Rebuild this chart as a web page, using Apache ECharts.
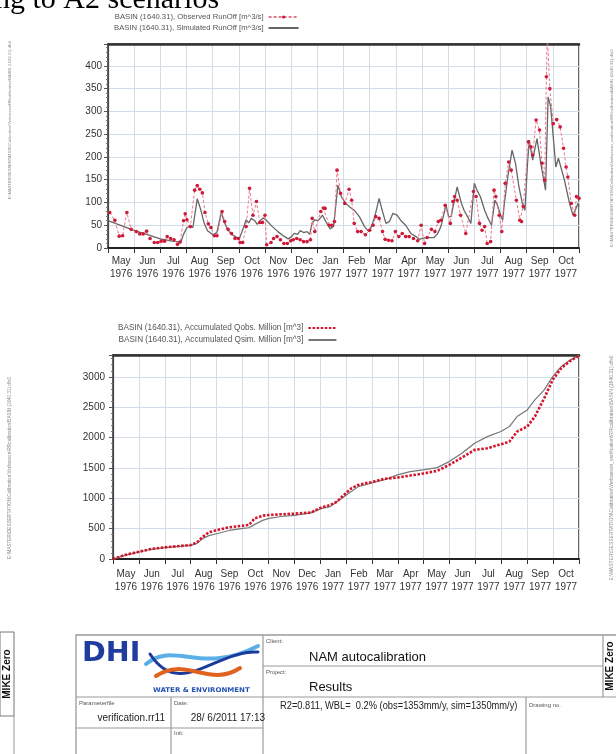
<!DOCTYPE html>
<html><head><meta charset="utf-8">
<script src="https://cdn.jsdelivr.net/npm/echarts@6/dist/echarts.min.js"></script>
<style>html,body{margin:0;padding:0;background:#fff}#c{width:616px;height:754px}</style>
</head><body><div id="c"></div>
<script>
// ---------- DATA ----------
const monthLabels = ['May\n1976','Jun\n1976','Jul\n1976','Aug\n1976','Sep\n1976','Oct\n1976','Nov\n1976','Dec\n1976',
  'Jan\n1977','Feb\n1977','Mar\n1977','Apr\n1977','May\n1977','Jun\n1977','Jul\n1977','Aug\n1977','Sep\n1977','Oct\n1977'];
const startDate = '1976-05-01';
const endDate = '1977-11-01';

const simRunoffDates = ['1976-05-01','1976-05-15','1976-06-01','1976-06-15','1976-07-01','1976-07-15','1976-07-25','1976-07-28',
 '1976-08-01','1976-08-05','1976-08-08','1976-08-13','1976-08-17','1976-08-21','1976-08-25','1976-09-01','1976-09-05','1976-09-10',
 '1976-09-13','1976-09-17','1976-09-22','1976-10-01','1976-10-03','1976-10-06','1976-10-09','1976-10-12','1976-10-15','1976-10-19',
 '1976-10-22','1976-10-25','1976-10-29','1976-11-01','1976-11-08','1976-11-15','1976-11-22','1976-11-27','1976-12-01','1976-12-04',
 '1976-12-08','1976-12-11','1976-12-15','1976-12-19','1976-12-22','1976-12-25','1976-12-28','1977-01-01','1977-01-06','1977-01-10',
 '1977-01-15','1977-01-19','1977-01-24','1977-01-28','1977-02-02','1977-02-06','1977-02-12','1977-02-18','1977-02-24','1977-03-01',
 '1977-03-04','1977-03-08','1977-03-13','1977-03-17','1977-03-21','1977-03-25','1977-03-29','1977-04-03','1977-04-07','1977-04-13',
 '1977-04-19','1977-04-25','1977-04-29','1977-05-02','1977-05-08','1977-05-16','1977-05-20','1977-05-24','1977-05-30','1977-06-02',
 '1977-06-05','1977-06-08','1977-06-12','1977-06-17','1977-06-20','1977-06-24','1977-06-28','1977-07-02','1977-07-05','1977-07-09',
 '1977-07-14','1977-07-18','1977-07-22','1977-07-26','1977-07-29','1977-08-01','1977-08-04','1977-08-06','1977-08-10','1977-08-15',
 '1977-08-19','1977-08-23','1977-08-27','1977-08-30','1977-09-02','1977-09-04','1977-09-08','1977-09-13','1977-09-18','1977-09-23',
 '1977-09-26','1977-09-29','1977-10-05','1977-10-08','1977-10-15','1977-10-21','1977-10-25','1977-10-27','1977-10-31','1977-11-01'];
const simRunoffValues = [60,50,38,30,20,15,13,30,
 45,48,45,108,85,55,38,28,35,78,
 60,42,30,20,16,45,62,55,65,60,
 52,60,66,62,48,36,26,20,25,32,
 30,38,34,36,30,55,62,60,72,58,
 42,48,138,113,98,91,83,69,47,36,
 47,69,109,80,54,58,76,72,61,50,
 32,25,19,21,23,23,31,47,94,69,
 69,98,134,98,83,69,54,142,127,113,
 83,65,50,105,94,76,61,98,156,215,
 186,134,98,83,186,237,193,240,180,127,
 332,310,178,197,149,98,72,69,98,91];

const obsRunoffDates = ['1976-05-03','1976-05-09','1976-05-14','1976-05-18','1976-05-23','1976-05-28','1976-06-03','1976-06-07',
 '1976-06-11','1976-06-15','1976-06-19','1976-06-24','1976-06-28','1976-07-02','1976-07-06','1976-07-09','1976-07-13','1976-07-17',
 '1976-07-21','1976-07-24','1976-07-28','1976-07-30','1976-08-01','1976-08-05','1976-08-10','1976-08-13','1976-08-16','1976-08-19',
 '1976-08-22','1976-08-26','1976-08-29','1976-09-02','1976-09-05','1976-09-11','1976-09-14','1976-09-18','1976-09-22','1976-09-26',
 '1976-09-30','1976-10-02','1976-10-05','1976-10-09','1976-10-13','1976-10-17','1976-10-21','1976-10-25','1976-10-28','1976-10-31',
 '1976-11-02','1976-11-07','1976-11-10','1976-11-14','1976-11-18','1976-11-22','1976-11-26','1976-11-30','1976-12-03','1976-12-07',
 '1976-12-11','1976-12-15','1976-12-19','1976-12-23','1976-12-25','1976-12-28','1977-01-04','1977-01-07','1977-01-09','1977-01-14',
 '1977-01-17','1977-01-20','1977-01-23','1977-01-27','1977-02-01','1977-02-06','1977-02-09','1977-02-12','1977-02-16','1977-02-20',
 '1977-02-25','1977-03-02','1977-03-06','1977-03-09','1977-03-13','1977-03-17','1977-03-20','1977-03-24','1977-03-28','1977-04-01',
 '1977-04-05','1977-04-09','1977-04-13','1977-04-17','1977-04-22','1977-04-27','1977-05-01','1977-05-05','1977-05-08','1977-05-13',
 '1977-05-17','1977-05-21','1977-05-24','1977-05-29','1977-06-04','1977-06-07','1977-06-09','1977-06-12','1977-06-16','1977-06-22',
 '1977-07-01','1977-07-04','1977-07-08','1977-07-11','1977-07-14','1977-07-17','1977-07-21','1977-07-25','1977-07-27','1977-07-31',
 '1977-08-03','1977-08-07','1977-08-11','1977-08-14','1977-08-20','1977-08-24','1977-08-26','1977-08-28','1977-09-03','1977-09-06',
 '1977-09-08','1977-09-12','1977-09-16','1977-09-19','1977-09-22','1977-09-24','1977-09-25','1977-09-28','1977-10-02','1977-10-06',
 '1977-10-10','1977-10-14','1977-10-17','1977-10-19','1977-10-23','1977-10-27','1977-10-29','1977-11-01'];
const obsRunoffValues = [78,61,26,27,78,41,36,31,
 31,37,21,12,12,15,15,25,21,18,
 8,13,60,75,62,47,127,137,129,121,
 78,53,45,27,27,80,58,41,32,21,
 21,12,12,47,131,72,102,56,56,72,
 7,12,21,25,18,10,10,16,18,21,
 18,14,14,18,65,36,80,88,87,50,
 50,58,171,120,98,129,105,54,36,36,
 29,39,50,69,65,36,19,17,16,36,
 25,32,25,25,21,16,50,10,23,41,
 36,58,61,94,54,102,113,105,72,32,
 124,113,54,39,47,10,14,127,113,72,
 36,142,189,171,105,61,58,91,233,222,
 204,281,259,186,149,376,470,350,273,282,
 266,219,178,156,98,72,113,109];

const obsAccDates = ['1976-05-01','1976-05-15','1976-06-01','1976-06-15','1976-07-01','1976-07-15','1976-08-01','1976-08-08',
 '1976-08-15','1976-08-22','1976-09-01','1976-09-15','1976-10-01','1976-10-08','1976-10-15','1976-10-25','1976-11-01','1976-11-15',
 '1976-12-01','1976-12-20','1977-01-01','1977-01-12','1977-01-20','1977-01-28','1977-02-06','1977-02-14','1977-02-22','1977-03-01',
 '1977-03-16','1977-04-01','1977-04-16','1977-05-01','1977-05-18','1977-06-01','1977-06-16','1977-07-01','1977-07-16','1977-08-01',
 '1977-08-11','1977-08-20','1977-09-01','1977-09-10','1977-09-21','1977-10-01','1977-10-11','1977-10-22','1977-11-01'];
const obsAccValues = [0,66,121,165,192,209,231,275,
 368,440,478,522,549,560,670,714,725,736,
 747,764,846,890,945,1055,1165,1220,1247,1264,
 1319,1341,1374,1407,1451,1549,1670,1797,1824,1890,
 1934,2099,2181,2346,2648,2951,3143,3264,3352];

const simAccDates = ['1976-05-01','1976-05-15','1976-06-01','1976-06-15','1976-07-01','1976-07-15','1976-08-01','1976-08-08',
 '1976-08-15','1976-08-22','1976-09-01','1976-09-15','1976-10-01','1976-10-08','1976-10-15','1976-10-25','1976-11-01','1976-11-15',
 '1976-12-01','1976-12-20','1977-01-01','1977-01-12','1977-01-28','1977-02-14','1977-03-01','1977-03-16','1977-04-01','1977-04-16',
 '1977-05-01','1977-05-18','1977-06-01','1977-06-16','1977-07-01','1977-07-16','1977-08-01','1977-08-11','1977-08-20','1977-09-01',
 '1977-09-10','1977-09-21','1977-10-01','1977-10-11','1977-10-22','1977-11-01'];
const simAccValues = [0,60,115,160,188,205,225,260,
 340,385,420,470,505,515,570,640,670,700,
 720,760,830,863,1027,1192,1247,1302,1385,1440,
 1467,1505,1604,1742,1907,2016,2099,2181,2346,2456,
 2621,2786,3005,3170,3280,3352];

const yTop = {min: 0, max: 448, interval: 50};
const yBottom = {min: 0, max: 3360, interval: 500};

const names = {
  obsRunoff: 'BASIN (1640.31), Observed RunOff [m^3/s]',
  simRunoff: 'BASIN (1640.31), Simulated RunOff [m^3/s]',
  obsAcc: 'BASIN (1640.31), Accumulated Qobs. Million [m^3]',
  simAcc: 'BASIN (1640.31), Accumulated Qsim. Million [m^3]'
};

// ---------- CHART ----------
const FONT = '"Liberation Sans", Arial, sans-serif';
const GRIDC = '#d2dde8';
const pairs = (d, v) => d.map((x, i) => [x, v[i]]);

function xAxesFor(gi, margin) {
  return [
    {type: 'time', gridIndex: gi, min: startDate, max: endDate, show: false},
    {type: 'category', gridIndex: gi, data: monthLabels, boundaryGap: true, position: 'bottom',
     axisLine: {show: true, lineStyle: {color: '#222', width: 2}},
     axisTick: {show: true, length: 5, lineStyle: {color: '#333', width: 1}},
     splitLine: {show: true, lineStyle: {color: GRIDC, width: 1}},
     axisLabel: {fontFamily: FONT, fontSize: 10, color: '#333', lineHeight: 13, margin: margin, interval: 0}},
    {type: 'category', gridIndex: gi, data: monthLabels, position: 'top',
     axisLine: {show: true, lineStyle: {color: '#333', width: 2.5}},
     axisTick: {show: false}, axisLabel: {show: false}, splitLine: {show: false}}
  ];
}
function yAxisFor(gi, cfg, margin) {
  return {type: 'value', gridIndex: gi, min: cfg.min, max: cfg.max, interval: cfg.interval,
    axisLine: {show: true, lineStyle: {color: '#444', width: 1.2}},
    axisTick: {show: true, length: 4, lineStyle: {color: '#555'}},
    minorTick: {show: true, splitNumber: 5, length: 2, lineStyle: {color: '#777'}},
    splitLine: {show: true, lineStyle: {color: GRIDC, width: 1}},
    axisLabel: {fontFamily: FONT, fontSize: 10, color: '#333', margin: margin, showMaxLabel: false,
      formatter: v => String(v)}};
}

const SIDE = '#8a8a8a';
function txt(text, x, y, font, fill, align, extra) {
  return Object.assign({type: 'text', x: x, y: y, z: 100,
    style: {text: text, font: font, fill: fill, align: align || 'left', textAlign: align || 'left',
            verticalAlign: 'middle', textVerticalAlign: 'middle'}}, extra || {});
}
function ln(x1, y1, x2, y2, c, w) {
  return {type: 'line', z: 100, shape: {x1: x1, y1: y1, x2: x2, y2: y2}, style: {stroke: c || '#9a9a9a', lineWidth: w || 1.2}};
}
function bz(p, c, w) {
  return {type: 'bezierCurve', z: 100, shape: {x1: p[0], y1: p[1], cpx1: p[2], cpy1: p[3], cpx2: p[4], cpy2: p[5], x2: p[6], y2: p[7]},
    style: {stroke: c, lineWidth: w, fill: null, lineCap: 'round'}};
}
const ROT = Math.PI / 2;
const graphics = [
  txt('ng to A2 scenarios', -5, 0, '30px "Liberation Serif", "Times New Roman", serif', '#000'),
  txt('E:\\MASTER\\DESSERTATION\\Calibration\\Verbasson\\RRcalibration\\BASIN (1640.31).dfs0', 10, 120, '4px ' + FONT, SIDE, 'center', {rotation: ROT}),
  txt('E:\\MASTER\\DESSERTATION\\Calibration\\Verbasson\\RRcalibration\\BASIN (1640.31).dfs0', 10, 468, '4.6px ' + FONT, SIDE, 'center', {rotation: ROT}),
  txt('E:\\MASTER\\DESSERTATION\\Calibration\\Verbasson_verification\\RRcalibration\\BASIN (1640.31).dfs0', 612, 148, '4.4px ' + FONT, SIDE, 'center', {rotation: ROT}),
  txt('E:\\MASTER\\DESSERTATION\\Calibration\\Verbasson_verification\\RRcalibration\\BASIN (1640.31).dfs0', 612, 468, '5px ' + FONT, SIDE, 'center', {rotation: ROT}),
  // left MIKE Zero box
  {type: 'rect', z: 100, shape: {x: 0, y: 632, width: 14, height: 84}, style: {fill: 'none', stroke: '#777', lineWidth: 1}},
  ln(14, 716, 14, 760, '#999', 1),
  txt('MIKE Zero', 7, 674, 'bold 10px ' + FONT, '#111', 'center', {rotation: ROT}),
  // title block frame
  {type: 'rect', z: 100, shape: {x: 76, y: 635, width: 560, height: 140}, style: {fill: 'none', stroke: '#9a9a9a', lineWidth: 1.3}},
  ln(76, 697, 616, 697), ln(263, 666, 603, 666), ln(76, 728, 263, 728),
  ln(263, 635, 263, 760), ln(171, 697, 171, 760), ln(526, 697, 526, 760), ln(603, 635, 603, 697),
  txt('MIKE Zero', 610, 666, 'bold 10px ' + FONT, '#111', 'center', {rotation: ROT}),
  // DHI logo
  txt('DHI', 82, 654, 'bold 26px "DejaVu Sans", sans-serif', '#1f3c9e', 'left', {scaleX: 1.1, originX: 0, originY: 0}),
  bz([146, 664, 175, 640, 200, 676, 258, 646], '#5ab0e6', 4),
  bz([150, 654, 180, 700, 215, 650, 258, 652], '#1c3a9c', 3),
  bz([156, 676, 185, 656, 210, 688, 240, 668], '#e0621e', 4),
  txt('WATER & ENVIRONMENT', 153, 690, 'bold 6.5px "DejaVu Sans", sans-serif', '#2452b0', 'left', {scaleX: 1.08, originX: 0, originY: 0}),
  // labels
  txt('Client:', 266, 641, '6px ' + FONT, '#555'),
  txt('NAM autocalibration', 309, 657, '13px ' + FONT, '#111'),
  txt('Project:', 266, 672, '6px ' + FONT, '#555'),
  txt('Results', 309, 687, '13px ' + FONT, '#111'),
  txt('Parameterfile', 79, 703, '6px ' + FONT, '#555'),
  txt('verification.rr11', 165, 718, '10px ' + FONT, '#222', 'right'),
  txt('Date:', 174, 703, '6px ' + FONT, '#555'),
  txt('28/ 6/2011 17:13', 265, 718, '10px ' + FONT, '#222', 'right'),
  txt('Init:', 174, 733, '6px ' + FONT, '#555'),
  txt('R2=0.811, WBL=  0.2% (obs=1353mm/y, sim=1350mm/y)', 280, 706, '10px ' + FONT, '#222', 'left', {scaleX: 0.93, originX: 0, originY: 0}),
  txt('Drawing no.', 529, 705, '6px ' + FONT, '#555')
];

const chart = echarts.init(document.getElementById('c'), null, {renderer: 'canvas'});
chart.setOption({
  animation: false,
  backgroundColor: '#fff',
  textStyle: {fontFamily: FONT},
  grid: [
    {left: 108, top: 44, width: 471, height: 204, show: true, borderColor: '#333', borderWidth: 1.5, backgroundColor: 'transparent'},
    {left: 113, top: 355, width: 466, height: 204, show: true, borderColor: '#333', borderWidth: 1.5, backgroundColor: 'transparent'}
  ],
  legend: [
    {data: [{name: names.obsRunoff}, {name: names.simRunoff, itemStyle: {opacity: 0}}],
     orient: 'vertical', left: 109, top: 7, align: 'right',
     itemWidth: 30, itemHeight: 4, itemGap: 1, selectedMode: false,
     textStyle: {fontFamily: FONT, fontSize: 7.7, color: '#555', lineHeight: 10}},
    {data: [{name: names.obsAcc, itemStyle: {opacity: 0}}, {name: names.simAcc, itemStyle: {opacity: 0}}],
     orient: 'vertical', left: 113, top: 318, align: 'right',
     itemWidth: 28, itemHeight: 4, itemGap: 2, selectedMode: false,
     textStyle: {fontFamily: FONT, fontSize: 8.2, color: '#555', lineHeight: 10}}
  ],
  xAxis: xAxesFor(0, 7).concat(xAxesFor(1, 8.5)),
  yAxis: [yAxisFor(0, yTop, 6), yAxisFor(1, yBottom, 8)],
  series: [
    {name: names.simRunoff, type: 'line', xAxisIndex: 0, yAxisIndex: 0, data: pairs(simRunoffDates, simRunoffValues),
     symbol: 'none', lineStyle: {color: '#666', width: 1.3}, itemStyle: {color: '#666'}, z: 3},
    {name: names.obsRunoff, type: 'line', xAxisIndex: 0, yAxisIndex: 0, data: pairs(obsRunoffDates, obsRunoffValues),
     symbol: 'circle', symbolSize: 3.6, showSymbol: true, showAllSymbol: true,
     itemStyle: {color: '#cc1a38', borderWidth: 0}, lineStyle: {color: '#e8788c', width: 1, type: [3, 2]}, z: 4},
    {name: names.simAcc, type: 'line', xAxisIndex: 3, yAxisIndex: 1, data: pairs(simAccDates, simAccValues),
     symbol: 'none', lineStyle: {color: '#777', width: 1.2}, itemStyle: {color: '#777'}, z: 3},
    {name: names.obsAcc, type: 'line', xAxisIndex: 3, yAxisIndex: 1, data: pairs(obsAccDates, obsAccValues),
     symbol: 'none', lineStyle: {color: '#d4142a', width: 2.6, type: [2.5, 1.6]}, itemStyle: {color: '#d4142a'}, z: 4}
  ],
  graphic: graphics
});
</script>
</body></html>
